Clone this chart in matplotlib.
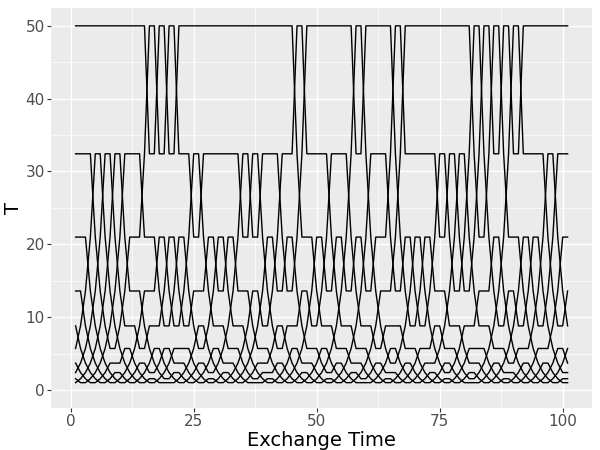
import numpy as np
import matplotlib
matplotlib.use("Agg")
import matplotlib.pyplot as plt

temps = [1.0, 1.545, 2.386, 3.686, 5.694, 8.796, 13.59, 20.99, 32.43, 50.0]
times = list(range(1, 102))
# swap times for adjacent temperature pairs (k, k+1): swap between t and t+1
swaps = [
    [1,3,5,7,9,11,13,15,17,21,23,25,27,29,31,33,35,39,41,43,45,47,49,51,53,55,57,61,63,65,67,69,71,73,75,77,79,83,85,87,89,91,93,95,97,99],
    [2,4,6,8,10,12,14,18,20,22,24,26,30,32,34,36,38,42,44,46,48,50,54,56,58,60,62,66,68,70,72,74,78,80,82,84,86,90,92,94,96,98],
    [1,3,5,7,11,13,15,17,19,23,25,27,29,33,35,37,41,43,45,49,51,53,55,59,61,63,67,69,71,75,77,79,83,85,87,91,93,95,97,99],
    [2,4,6,10,12,16,18,20,24,28,30,34,36,40,44,46,50,52,56,60,64,66,70,74,78,80,84,88,90,94,98,100],
    [1,3,5,7,9,13,15,25,27,31,35,37,41,43,47,53,57,61,63,67,73,75,79,85,89,93,97],
    [2,4,6,8,10,14,18,20,22,24,28,32,36,38,40,46,48,50,54,58,62,68,70,72,76,82,86,88,90,92,94,96,98,100],
    [3,5,7,9,11,17,19,21,23,27,29,31,33,39,41,43,45,49,51,53,55,57,59,61,65,67,69,71,73,77,79,81,85,87,91,93,95,97,99],
    [4,6,8,10,14,24,26,34,36,38,42,46,52,56,60,64,66,74,76,78,80,82,84,88,96,98],
    [15,17,19,21,45,47,57,59,65,67,81,83,85,87,89,91],
]

n = len(temps)
slot_of = list(range(n))  # chain -> slot
traj = np.zeros((n, len(times)))
for i, t in enumerate(times):
    for c in range(n):
        traj[c, i] = temps[slot_of[c]]
    occ = {s: c for c, s in enumerate(slot_of)}
    for k in range(n - 1):
        if t in swaps[k]:
            a, b = occ[k], occ[k + 1]
            slot_of[a], slot_of[b] = k + 1, k
            occ[k], occ[k + 1] = b, a

fig = plt.figure(figsize=(6, 4.5), dpi=100)
ax = fig.add_axes([0.085, 0.093, 0.902, 0.89])
ax.set_facecolor("#EBEBEB")
for c in range(n):
    ax.plot(times, traj[c], color="black", lw=1.0)
ax.set_xlim(-4, 106)
ax.set_ylim(-2.5, 52.5)
ax.set_xticks([0, 25, 50, 75, 100])
ax.set_yticks([0, 10, 20, 30, 40, 50])
ax.set_xticks([12.5, 37.5, 62.5, 87.5], minor=True)
ax.set_yticks([5, 15, 25, 35, 45], minor=True)
ax.grid(True, which="major", color="white", lw=1.0)
ax.grid(True, which="minor", color="white", lw=0.5)
ax.set_axisbelow(True)
for s in ax.spines.values():
    s.set_visible(False)
ax.tick_params(which="both", length=3, pad=1.5, color="#333333", labelsize=11, labelcolor="#4D4D4D")
ax.tick_params(which="minor", length=0)
ax.set_xlabel("Exchange Time", fontsize=14, labelpad=1)
ax.set_ylabel("T", fontsize=14, labelpad=2)
fig.savefig("out.png")
